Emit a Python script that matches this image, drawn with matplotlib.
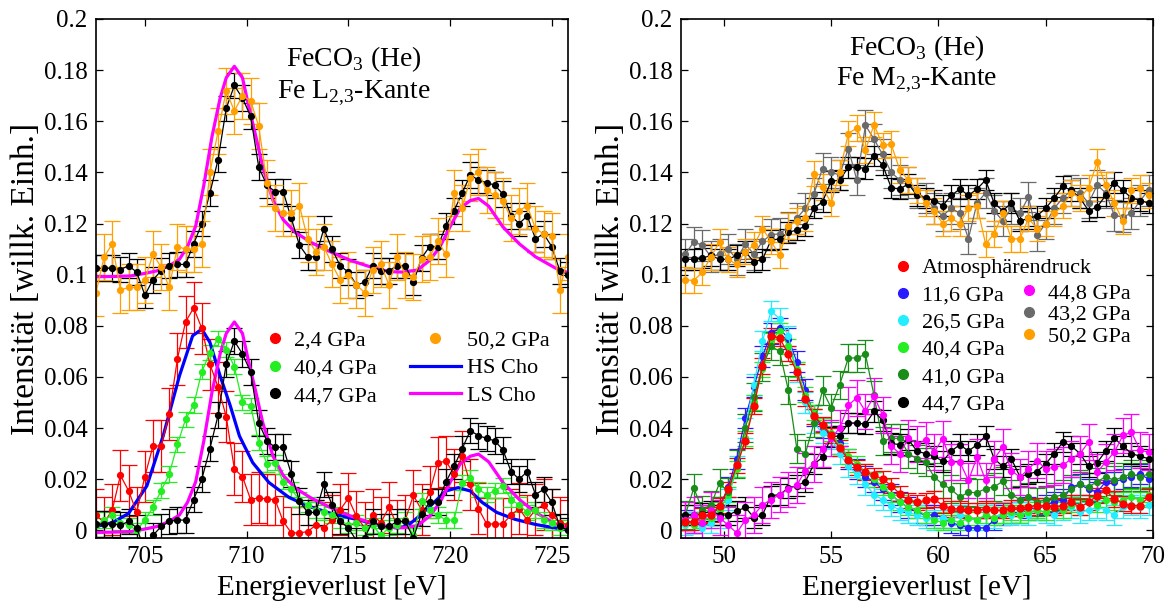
import numpy as np
import matplotlib
matplotlib.use("Agg")
import matplotlib.pyplot as plt
from matplotlib.lines import Line2D
from matplotlib.ticker import FormatStrFormatter, MultipleLocator

plt.rcParams['font.family'] = ['Liberation Serif', 'DejaVu Serif']
plt.rcParams['mathtext.fontset'] = 'custom'
plt.rcParams['mathtext.rm'] = 'Liberation Serif'

OFFSET = 0.1  # vertical shift of the upper spectra

# ---------------- Fe L2,3 edge ----------------
E_L = np.round(702.6 + 0.4 * np.arange(59), 2)

red_24 = [0.006, 0.003, 0.008, 0.0215, 0.0155, 0.007, 0.021, 0.033, 0.033, 0.0455,
          0.067, 0.0815, 0.087, 0.079, 0.065, 0.056, 0.0445, 0.024, 0.021, 0.012,
          0.0128, 0.0122, 0.012, 0.0035, -0.001, -0.001, -0.0005, 0.002, 0.001, 0.004,
          0.008, 0.0125, 0.0055, 0.001, 0.006, 0.003, 0.009, 0.002, 0.004, 0.0137,
          0.008, 0.015, 0.0265, 0.027, 0.022, 0.029, 0.018, 0.0085, 0.0025, 0.0025,
          0.0025, 0.006, 0.0085, 0.004, 0.008, 0.010, 0.006, 0.003, 0.002]
green_404 = [0.002, 0.004, 0.006, 0.003, 0.002, 0.000, 0.004, 0.009, 0.0155, 0.022,
             0.0336, 0.0434, 0.049, 0.062, 0.0695, 0.075, 0.0707, 0.064, 0.050, 0.0487,
             0.0343, 0.026, 0.0265, 0.019, 0.016, 0.012, 0.010, 0.008, 0.007, 0.006,
             0.004, 0.002, 0.003, 0.001, 0.002, -0.002, 0.001, 0.002, 0.004, -0.002,
             0.0115, 0.008, 0.006, 0.004, 0.004, 0.0186, 0.0206, 0.016, 0.014, 0.0155,
             0.0175, 0.012, 0.010, 0.007, 0.008, 0.004, 0.003, 0.001, 0.000]
black_447 = [0.0025, 0.0025, 0.0025, 0.002, 0.0035, 0.001, -0.008, -0.002, 0.0015, 0.0035,
             0.004, 0.004, 0.012, 0.020, 0.032, 0.045, 0.065, 0.074, 0.069, 0.062,
             0.042, 0.035, 0.0325, 0.0325, 0.022, 0.0115, 0.007, 0.007, 0.018, 0.010,
             0.0035, 0.001, -0.004, -0.003, 0.0035, 0.0015, 0.0015, 0.0035, 0.0035, -0.003,
             0.0065, 0.011, 0.011, 0.019, 0.025, 0.032, 0.039, 0.037, 0.036, 0.035,
             0.0315, 0.023, 0.020, 0.023, 0.014, 0.016, 0.011, 0.0015, 0.000]
orange_502 = [-0.007, 0.007, 0.012, -0.006, -0.005, -0.005, -0.002, 0.008, 0.003, -0.005,
              0.011, 0.010, 0.010, 0.012, 0.040, 0.056, 0.072, 0.064, 0.070, 0.068,
              0.058, 0.036, 0.026, 0.024, 0.024, 0.027, 0.014, 0.009, 0.011, 0.004,
              -0.002, 0.000, -0.004, -0.007, 0.002, 0.004, -0.004, 0.007, 0.000, -0.001,
              0.006, 0.007, 0.013, 0.008, 0.032, 0.026, 0.038, 0.040, 0.033, 0.031,
              0.029, 0.022, 0.025, 0.027, 0.018, 0.016, 0.015, -0.006, 0.007]
err_L = {'red': 0.010, 'green': 0.003, 'black': 0.005, 'orange': 0.009}

# calculated spectra (Cho)
E_hs = [702.6, 703.4, 704.2, 705.1, 705.9, 706.7, 707.35, 707.8, 708.2, 708.7,
        709.2, 709.65, 710.3, 711.1, 712.1, 713.1, 714.2, 714.9, 715.7, 716.55,
        717.4, 717.9, 718.5, 719.2, 719.8, 720.4, 721.0, 721.6, 722.3, 723.2,
        724.2, 725.2, 725.8]
hs_cho = [0.0015, 0.003, 0.0066, 0.0174, 0.0369, 0.0604, 0.0761, 0.0787, 0.0735, 0.0604,
          0.0487, 0.0369, 0.0265, 0.0187, 0.0128, 0.0093, 0.0065, 0.0052, 0.0037, 0.0019,
          0.0009, 0.0017, 0.0056, 0.0108, 0.0154, 0.0167, 0.0154, 0.0108, 0.007, 0.0043,
          0.0023, 0.0009, 0.0003]
E_ls = [702.6, 703.5, 704.3, 705.0, 705.6, 706.2, 706.7, 707.1, 707.5, 707.9,
        708.3, 708.7, 709.0, 709.4, 709.8, 710.1, 710.4, 710.8, 711.3, 711.8,
        712.4, 713.2, 714.1, 715.1, 716.1, 717.0, 717.7, 718.4, 719.0, 719.5,
        720.0, 720.5, 721.0, 721.4, 721.9, 722.6, 723.4, 724.2, 725.2, 725.8]
ls_cho = [-0.0008, -0.0007, -0.0005, 0.0005, 0.0015, 0.0035, 0.006, 0.011, 0.019, 0.035,
          0.054, 0.069, 0.077, 0.0815, 0.077, 0.066, 0.056, 0.042, 0.029, 0.0215,
          0.0165, 0.0125, 0.009, 0.0056, 0.003, 0.0012, 0.001, 0.0018, 0.0056, 0.0108,
          0.0187, 0.026, 0.029, 0.0298, 0.0268, 0.0187, 0.0121, 0.007, 0.0025, 0.0008]

# ---------------- Fe M2,3 edge ----------------
E_R = np.round(48.2 + 0.4 * np.arange(55), 2)

red_atm = [0.0032, 0.0032, 0.0058, 0.0061, 0.0097, 0.016, 0.0254, 0.0351, 0.0486, 0.0643,
           0.0762, 0.0752, 0.0691, 0.0619, 0.0515, 0.0446, 0.0413, 0.0371, 0.0322, 0.0277,
           0.0247, 0.0228, 0.0215, 0.0201, 0.0175, 0.0143, 0.0117, 0.011, 0.0117, 0.0123,
           0.0097, 0.0084, 0.0084, 0.0078, 0.0078, 0.0084, 0.0078, 0.0078, 0.0087, 0.0087,
           0.0091, 0.0097, 0.0097, 0.0091, 0.0097, 0.011, 0.0091, 0.011, 0.0136, 0.0156,
           0.0123, 0.0104, 0.0097, 0.0097, 0.013]
blue_116 = [0.004, 0.003, 0.005, 0.006, 0.009, 0.017, 0.028, 0.044, 0.056, 0.068,
            0.077, 0.079, 0.075, 0.066, 0.055, 0.045, 0.040, 0.037, 0.034, 0.028,
            0.024, 0.021, 0.019, 0.016, 0.014, 0.011, 0.009, 0.007, 0.006, 0.006,
            0.005, 0.003, 0.002, 0.001, 0.001, 0.001, 0.004, 0.006, 0.007, 0.007,
            0.009, 0.008, 0.010, 0.011, 0.012, 0.017, 0.018, 0.016, 0.015, 0.019,
            0.019, 0.020, 0.021, 0.022, 0.020]
cyan_265 = [0.002, 0.003, 0.001, 0.003, 0.005, 0.012, 0.025, 0.040, 0.057, 0.074,
            0.0857, 0.0828, 0.076, 0.062, 0.050, 0.042, 0.038, 0.036, 0.030, 0.025,
            0.022, 0.018, 0.014, 0.012, 0.0097, 0.008, 0.007, 0.006, 0.005, 0.004,
            0.005, 0.004, 0.006, 0.005, 0.004, 0.006, 0.005, 0.007, 0.006, 0.007,
            0.006, 0.008, 0.007, 0.006, 0.008, 0.009, 0.007, 0.008, 0.009, 0.008,
            0.006, 0.009, 0.010, 0.009, 0.010]
lime_404 = [0.003, 0.002, 0.004, 0.005, 0.008, 0.014, 0.024, 0.036, 0.050, 0.063,
            0.074, 0.078, 0.072, 0.063, 0.053, 0.046, 0.041, 0.038, 0.033, 0.029,
            0.026, 0.023, 0.020, 0.017, 0.014, 0.011, 0.009, 0.008, 0.006, 0.004,
            0.003, 0.004, 0.003, 0.005, 0.004, 0.006, 0.005, 0.006, 0.007, 0.006,
            0.007, 0.008, 0.007, 0.009, 0.008, 0.010, 0.009, 0.011, 0.010, 0.012,
            0.011, 0.012, 0.013, 0.012, 0.014]
dkgreen_410 = [0.006, 0.0165, 0.008, 0.010, 0.0185, 0.015, 0.026, 0.040, 0.052, 0.064,
               0.072, 0.070, 0.055, 0.032, 0.030, 0.042, 0.0547, 0.048, 0.057, 0.0673,
               0.0675, 0.0688, 0.0528, 0.0348, 0.036, 0.036, 0.030, 0.028, 0.0267, 0.0209,
               0.018, 0.016, 0.013, 0.0149, 0.0147, 0.0163, 0.017, 0.0192, 0.014, 0.012,
               0.013, 0.011, 0.012, 0.013, 0.014, 0.016, 0.018, 0.017, 0.019, 0.021,
               0.0195, 0.021, 0.022, 0.021, 0.022]
black_447R = [0.006, 0.006, 0.0065, 0.0075, 0.006, 0.006, 0.0075, 0.009, 0.005, 0.006,
              0.0135, 0.014, 0.0165, 0.0175, 0.019, 0.026, 0.0285, 0.0365, 0.037, 0.042,
              0.042, 0.0415, 0.0465, 0.043, 0.034, 0.0335, 0.0355, 0.031, 0.030, 0.029,
              0.027, 0.031, 0.0335, 0.031, 0.0335, 0.037, 0.028, 0.025, 0.028, 0.021,
              0.022, 0.023, 0.026, 0.030, 0.0345, 0.033, 0.030, 0.025, 0.0265, 0.031,
              0.036, 0.033, 0.030, 0.029, 0.028]
magenta_448 = [0.004, 0.006, 0.003, 0.008, 0.005, 0.002, -0.001, 0.004, 0.006, 0.010,
               0.012, 0.014, 0.016, 0.0176, 0.0234, 0.026, 0.0319, 0.036, 0.040, 0.0489,
               0.0519, 0.0465, 0.0525, 0.045, 0.033, 0.030, 0.036, 0.0339, 0.0352, 0.0306,
               0.0358, 0.0267, 0.0267, 0.0195, 0.0286, 0.0195, 0.028, 0.0326, 0.0234, 0.0208,
               0.024, 0.0273, 0.024, 0.0247, 0.0254, 0.028, 0.030, 0.0345, 0.0228, 0.0267,
               0.0306, 0.0371, 0.0384, 0.0313, 0.0306]
gray_432 = [0.008, 0.0128, 0.0115, 0.007, 0.008, 0.010, 0.006, 0.012, 0.008, 0.013,
            0.0156, 0.016, 0.0186, 0.022, 0.026, 0.0317, 0.0415, 0.040, 0.039, 0.0493,
            0.037, 0.0584, 0.053, 0.047, 0.040, 0.037, 0.036, 0.032, 0.030, 0.026,
            0.023, 0.026, 0.024, 0.0141, 0.028, 0.032, 0.025, 0.021, 0.026, 0.024,
            0.0304, 0.0154, 0.020, 0.026, 0.030, 0.033, 0.032, 0.028, 0.035, 0.032,
            0.0232, 0.0226, 0.024, 0.029, 0.033]
orange_502R = [-0.002, -0.0023, 0.001, 0.007, 0.0128, 0.006, 0.004, 0.009, 0.0115, 0.018,
               0.013, 0.0076, 0.019, 0.021, 0.022, 0.0395, 0.0343, 0.028, 0.040, 0.0552,
               0.0574, 0.0487, 0.0587, 0.0506, 0.051, 0.041, 0.037, 0.033, 0.028, 0.025,
               0.020, 0.022, 0.020, 0.026, 0.027, 0.012, 0.016, 0.024, 0.014, 0.014,
               0.022, 0.018, 0.020, 0.024, 0.027, 0.032, 0.030, 0.034, 0.044, 0.035,
               0.028, 0.021, 0.033, 0.034, 0.031]
err_R = {'red': 0.003, 'blue': 0.004, 'cyan': 0.004, 'lime': 0.003, 'dkgreen': 0.0055,
         'black': 0.004, 'magenta': 0.007, 'gray': 0.006, 'orange': 0.005}

C_RED = '#ff0000'
C_GREEN = '#22ee22'
C_ORANGE = '#ffa000'
C_BLUE = '#2a1aff'
C_CYAN = '#22eeff'
C_DKGREEN = '#1a8c1a'
C_MAGENTA = '#ff00ff'
C_GRAY = '#6a6a6a'


def spectrum(ax, x, y, err, color, shift=0.0, ms=4.2):
    y = np.asarray(y) + shift
    ax.errorbar(x, y, yerr=err, fmt='o-', color=color, ms=ms, lw=0.9,
                elinewidth=0.9, capsize=6, capthick=0.9)


def style_axes(ax, xlim, xmajor):
    ax.set_xlim(*xlim)
    ax.set_ylim(-0.003, 0.2)
    ax.xaxis.set_major_locator(MultipleLocator(xmajor))
    ax.yaxis.set_major_locator(MultipleLocator(0.02))
    ax.yaxis.set_major_formatter(FormatStrFormatter('%g'))
    ax.tick_params(direction='in', length=5, width=0.9, top=True, right=True,
                   labelsize=18)
    ax.tick_params(axis='x', pad=6)
    ax.tick_params(axis='y', pad=6)
    for s in ax.spines.values():
        s.set_linewidth(1.2)
    ax.set_xlabel('Energieverlust [eV]', fontsize=21, labelpad=5)
    ax.set_ylabel('Intensität [willk. Einh.]', fontsize=24, labelpad=2)


def dot(color):
    return Line2D([], [], marker='o', ls='none', color=color, ms=7)


fig = plt.figure(figsize=(11.68, 6.03), dpi=100)
axL = fig.add_axes([0.0822, 0.1078, 0.4041, 0.8607])
axR = fig.add_axes([0.5830, 0.1078, 0.4041, 0.8607])

# left panel
spectrum(axL, E_L, red_24, err_L['red'], C_RED)
spectrum(axL, E_L, green_404, err_L['green'], C_GREEN)
spectrum(axL, E_L, black_447, err_L['black'], 'black')
spectrum(axL, E_L, black_447, err_L['black'], 'black', shift=OFFSET)
spectrum(axL, E_L, orange_502, err_L['orange'], C_ORANGE, shift=OFFSET)
axL.plot(E_hs, hs_cho, color='#0000ff', lw=2.3)
axL.plot(E_ls, ls_cho, color=C_MAGENTA, lw=2.3)
axL.plot(E_ls, np.asarray(ls_cho) + OFFSET, color=C_MAGENTA, lw=2.3)
style_axes(axL, (702.6, 725.8), 5)

axL.text(0.547, 0.922, r'FeCO$_\mathrm{3}$ (He)', transform=axL.transAxes,
         ha='center', va='center', fontsize=20)
axL.text(0.547, 0.857, r'Fe L$_\mathrm{2{,}3}$-Kante', transform=axL.transAxes,
         ha='center', va='center', fontsize=20)

legL1 = axL.legend([dot(C_RED), dot(C_GREEN), dot('black')],
                   ['2,4 GPa', '40,4 GPa', '44,7 GPa'],
                   loc='upper left', bbox_to_anchor=(0.358, 0.401), frameon=False,
                   fontsize=16, handlelength=0.9, handletextpad=0.4,
                   labelspacing=0.33, borderpad=0, borderaxespad=0)
axL.add_artist(legL1)
axL.legend([dot(C_ORANGE), Line2D([], [], color='#0000ff', lw=2.3),
            Line2D([], [], color=C_MAGENTA, lw=2.3)],
           ['50,2 GPa', 'HS Cho', 'LS Cho'],
           loc='upper left', bbox_to_anchor=(0.665, 0.401), frameon=False,
           fontsize=16, handlelength=2.3, handletextpad=0.25,
           labelspacing=0.33, borderpad=0, borderaxespad=0)

# right panel
spectrum(axR, E_R, blue_116, err_R['blue'], C_BLUE)
spectrum(axR, E_R, cyan_265, err_R['cyan'], C_CYAN)
spectrum(axR, E_R, lime_404, err_R['lime'], C_GREEN)
spectrum(axR, E_R, dkgreen_410, err_R['dkgreen'], C_DKGREEN)
spectrum(axR, E_R, black_447R, err_R['black'], 'black')
spectrum(axR, E_R, magenta_448, err_R['magenta'], C_MAGENTA)
spectrum(axR, E_R, red_atm, err_R['red'], C_RED, ms=5)
spectrum(axR, E_R, gray_432, err_R['gray'], C_GRAY, shift=OFFSET)
spectrum(axR, E_R, black_447R, err_R['black'], 'black', shift=OFFSET)
spectrum(axR, E_R, orange_502R, err_R['orange'], C_ORANGE, shift=OFFSET)
style_axes(axR, (48, 70), 5)

axR.text(0.5, 0.944, r'FeCO$_\mathrm{3}$ (He)', transform=axR.transAxes,
         ha='center', va='center', fontsize=20)
axR.text(0.5, 0.882, r'Fe M$_\mathrm{2{,}3}$-Kante', transform=axR.transAxes,
         ha='center', va='center', fontsize=20)

legR1 = axR.legend([dot(C_RED), dot(C_BLUE), dot(C_CYAN), dot(C_GREEN),
                    dot(C_DKGREEN), dot('black')],
                   ['Atmosphärendruck', '11,6 GPa', '26,5 GPa', '40,4 GPa',
                    '41,0 GPa', '44,7 GPa'],
                   loc='upper left', bbox_to_anchor=(0.449, 0.54), frameon=False,
                   fontsize=16, handlelength=0.9, handletextpad=0.4,
                   labelspacing=0.3, borderpad=0, borderaxespad=0)
axR.add_artist(legR1)
axR.legend([dot(C_MAGENTA), dot(C_GRAY), dot(C_ORANGE)],
           ['44,8 GPa', '43,2 GPa', '50,2 GPa'],
           loc='upper left', bbox_to_anchor=(0.716, 0.492), frameon=False,
           fontsize=16, handlelength=0.9, handletextpad=0.4,
           labelspacing=0.05, borderpad=0, borderaxespad=0)

fig.savefig('out.png', dpi=100)
